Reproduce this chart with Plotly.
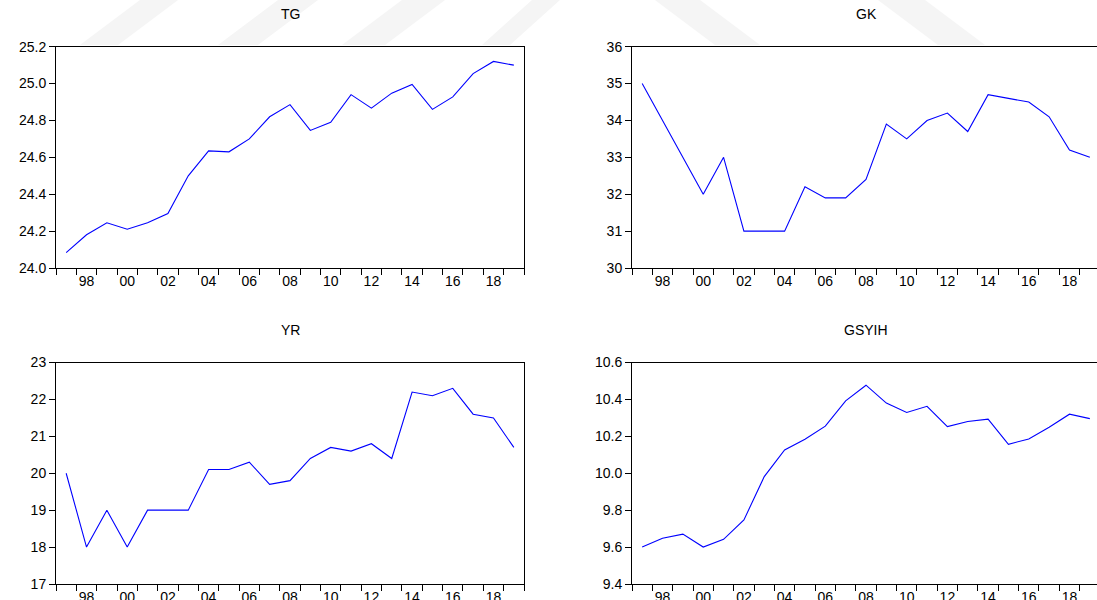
import plotly.graph_objects as go

years = list(range(1997, 2020))

tg = [24.083, 24.18, 24.245, 24.21, 24.245, 24.295, 24.50, 24.635, 24.63, 24.70,
      24.82, 24.886, 24.746, 24.79, 24.94, 24.867, 24.948, 24.995, 24.86, 24.928,
      25.054, 25.12, 25.10]
gk = [35.0, 34.0, 33.0, 32.0, 33.0, 31.0, 31.0, 31.0, 32.2, 31.9,
      31.9, 32.4, 33.9, 33.5, 34.0, 34.2, 33.7, 34.7, 34.6, 34.5,
      34.1, 33.2, 33.0]
yr = [20.0, 18.0, 19.0, 18.0, 19.0, 19.0, 19.0, 20.1, 20.1, 20.3,
      19.7, 19.8, 20.4, 20.7, 20.6, 20.8, 20.4, 22.2, 22.1, 22.3,
      21.6, 21.5, 20.7]
gsyih = [9.60, 9.648, 9.67, 9.60, 9.642, 9.747, 9.982, 10.126, 10.184, 10.255,
         10.392, 10.477, 10.38, 10.329, 10.363, 10.253, 10.28, 10.293, 10.157, 10.186,
         10.249, 10.32, 10.296]

titles = ["TG", "GK", "YR", "GSYIH"]
series = [tg, gk, yr, gsyih]
y_ranges = [[24.0, 25.2], [30, 36], [17, 23], [9.4, 10.6]]
y_dticks = [0.2, 1, 1, 0.2]
y_formats = [".1f", "d", "d", ".1f"]

xlabel_vals = list(range(1998, 2019, 2))
xlabel_text = ["%02d" % (y % 100) for y in xlabel_vals]
boundaries = [y - 0.5 for y in range(1997, 2021)]

W, H = 1097, 600
# panel boxes in pixels: (left, right, top, bottom)
boxes = [(56, 524, 46.7, 268), (632, 1097, 46.7, 268),
         (56, 524, 362.5, 584), (632, 1097, 362.5, 584)]
year_px = (524 - 56) / 23.0

fig = go.Figure()
font = dict(family="Liberation Sans, Arial, sans-serif", color="black")
annotations = []
for i, (s, t) in enumerate(zip(series, titles)):
    n = i + 1
    xa = "x" if n == 1 else "x%d" % n
    ya = "y" if n == 1 else "y%d" % n
    fig.add_trace(go.Scatter(x=years, y=s, mode="lines", xaxis=xa, yaxis=ya,
                             line=dict(color="#0000ff", width=1.1), showlegend=False))
    l, r, top, bot = boxes[i]
    xend = 1996.5 + (r - l) / year_px
    fig.layout["xaxis" if n == 1 else "xaxis%d" % n] = dict(
        domain=[l / W, r / W], range=[1996.5, xend], anchor=ya,
        tickmode="array", tickvals=xlabel_vals, ticktext=xlabel_text,
        ticks="", showgrid=False, zeroline=False, showline=True,
        linecolor="black", linewidth=1, mirror=True,
        tickfont=dict(size=14, **font), automargin=False,
        minor=dict(tickmode="array", tickvals=boundaries, ticks="outside",
                   ticklen=6, tickcolor="black", tickwidth=1, showgrid=False))
    fig.layout["yaxis" if n == 1 else "yaxis%d" % n] = dict(
        domain=[1 - bot / H, 1 - top / H], range=y_ranges[i], anchor=xa,
        dtick=y_dticks[i], tick0=y_ranges[i][0], tickformat=y_formats[i],
        ticks="outside", ticklen=6, tickcolor="black", tickwidth=1,
        showgrid=False, zeroline=False, showline=True, linecolor="black",
        linewidth=1, mirror=True, tickfont=dict(size=14, **font), automargin=False)
    cx = ((l + (l + 23 * year_px)) / 2) / W
    annotations.append(dict(text=t, x=cx, y=1 - (top - 33) / H, xref="paper", yref="paper",
                            showarrow=False, xanchor="center", yanchor="middle",
                            font=dict(size=14, **font)))

# faint watermark bands at top
shapes = []
wm = [((140, 178), -60), ((278, 318), -60), ((402, 445), -60), ((532, 560), -50),
      ((655, 700), 60), ((878, 925), 60)]
for (x0, x1), dx in wm:
    y0, y1 = 0, 45
    path = "M %f,%f L %f,%f L %f,%f L %f,%f Z" % (
        x0 / W, 1 - y0 / H, x1 / W, 1 - y0 / H, (x1 + dx) / W, 1 - y1 / H, (x0 + dx) / W, 1 - y1 / H)
    shapes.append(dict(type="path", path=path, xref="paper", yref="paper",
                       fillcolor="#f5f5f5", line=dict(width=0), layer="below"))

fig.update_layout(width=W, height=H, margin=dict(l=0, r=0, t=0, b=0),
                  paper_bgcolor="white", plot_bgcolor="rgba(0,0,0,0)",
                  annotations=annotations, shapes=shapes, showlegend=False)

fig.write_html("out.html", config={"displayModeBar": False},
               post_script="document.body.style.margin='0';document.body.style.overflow='hidden';")
